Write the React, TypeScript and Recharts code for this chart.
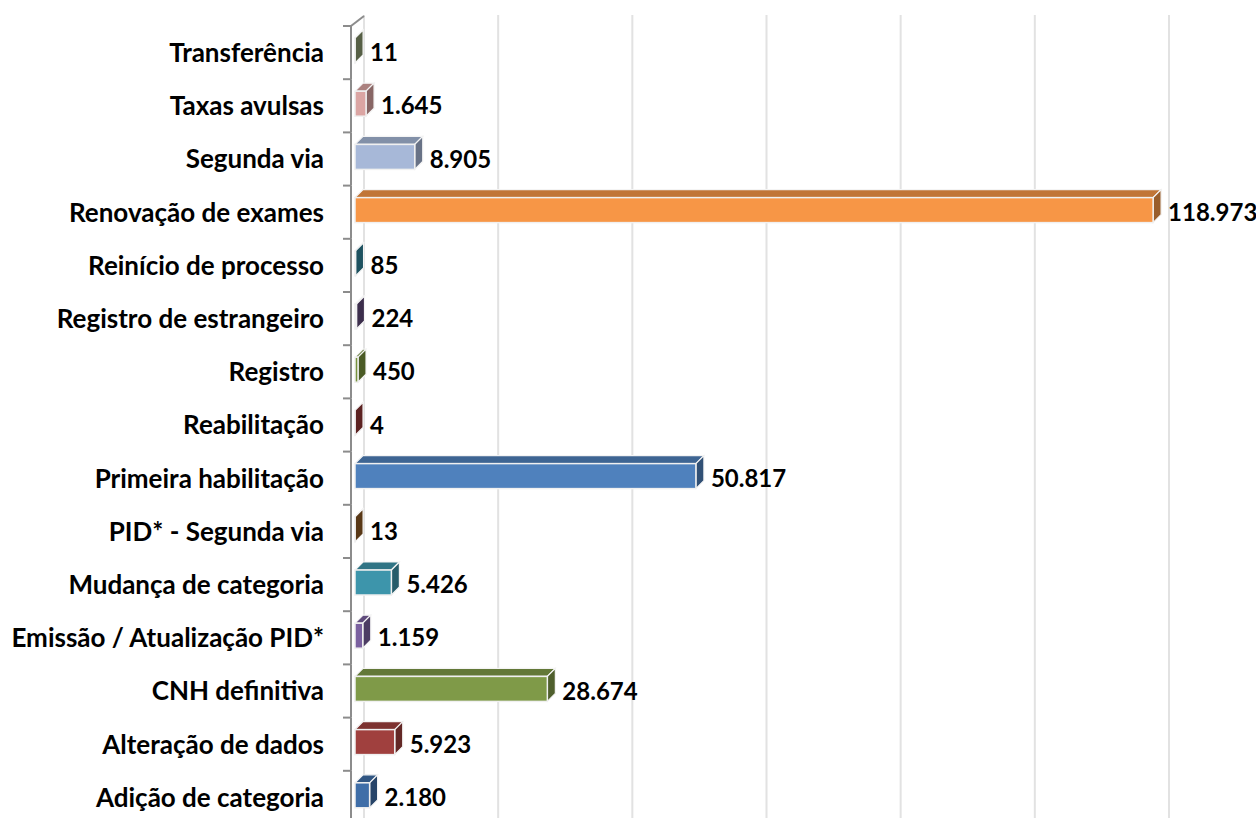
import { BarChart, Bar, XAxis, YAxis, CartesianGrid, LabelList } from 'recharts';

const categories = [
  'Transferência',
  'Taxas avulsas',
  'Segunda via',
  'Renovação de exames',
  'Reinício de processo',
  'Registro de estrangeiro',
  'Registro',
  'Reabilitação',
  'Primeira habilitação',
  'PID* - Segunda via',
  'Mudança de categoria',
  'Emissão / Atualização PID*',
  'CNH definitiva',
  'Alteração de dados',
  'Adição de categoria',
];

const values = [11, 1645, 8905, 118973, 85, 224, 450, 4, 50817, 13, 5426, 1159, 28674, 5923, 2180];

const colors = [
  '#8a9a70',
  '#dba5a3',
  '#a7b8d8',
  '#f79646',
  '#31849b',
  '#604a7b',
  '#77933c',
  '#953735',
  '#4f81bd',
  '#8f5a24',
  '#3d95ab',
  '#7b61a0',
  '#7f9a48',
  '#a0403e',
  '#3f6ea8',
];

const xTicks = [0, 20000, 40000, 60000, 80000, 100000, 120000];

const data = categories.map((name, i) => ({ name, value: values[i] }));

const W = 1256;
const H = 824;
const MARGIN = { top: 26, right: 96, bottom: 0, left: 0 };
const Y_WIDTH = 355;
const MAX = 120000;
const DEPTH = 8;
const AXIS_X = 351;
const BAND = (H - MARGIN.top - MARGIN.bottom) / categories.length;
const FONT = 'Lato, "Open Sans", sans-serif';

function shade(hex: string, f: number) {
  const n = parseInt(hex.slice(1), 16);
  const r = Math.round(((n >> 16) & 255) * f);
  const g = Math.round(((n >> 8) & 255) * f);
  const b = Math.round((n & 255) * f);
  return `rgb(${r},${g},${b})`;
}

const fmt = (v: number) => String(v).replace(/\B(?=(\d{3})+(?!\d))/g, '.');

function Bar3D(props: any) {
  const { x, y, width, height, index } = props;
  const c = colors[index % colors.length];
  const y0 = y - 2;
  const w = Math.max(width, 0);
  const top = `${x},${y0} ${x + DEPTH},${y0 - DEPTH} ${x + w + DEPTH},${y0 - DEPTH} ${x + w},${y0}`;
  const side = `${x + w},${y0} ${x + w + DEPTH},${y0 - DEPTH} ${x + w + DEPTH},${y0 + height - DEPTH} ${x + w},${y0 + height}`;
  return (
    <g>
      <polygon points={top} fill={shade(c, 0.78)} stroke="#f4f4f4" strokeWidth={1.2} />
      <polygon points={side} fill={shade(c, 0.62)} stroke="#f4f4f4" strokeWidth={1.2} />
      {w > 0 && <rect x={x} y={y0} width={w} height={height} fill={c} stroke="#f0f0f0" strokeWidth={1.5} />}
    </g>
  );
}

function CategoryTick(props: any) {
  const { y, payload, index } = props;
  const top = y - BAND / 2;
  return (
    <g>
      <line x1={AXIS_X} y1={top} x2={AXIS_X} y2={top + BAND} stroke="#8c8c8c" strokeWidth={2} />
      <line x1={AXIS_X - 8} y1={top} x2={AXIS_X} y2={top} stroke="#8c8c8c" strokeWidth={2} />
      {index === 0 && (
        <line x1={AXIS_X} y1={top} x2={AXIS_X + 13} y2={top - 10} stroke="#8c8c8c" strokeWidth={2} />
      )}
      <text
        x={AXIS_X - 27}
        y={y}
        dy="0.36em"
        textAnchor="end"
        fontFamily={FONT}
        fontWeight={700}
        fontSize={26}
        fill="#000"
      >
        {payload.value}
      </text>
    </g>
  );
}

function ValueLabel(props: any) {
  const { x, y, width, height, value } = props;
  return (
    <text
      x={x + width + 15}
      y={y + height / 2}
      dy="0.36em"
      fontFamily={FONT}
      fontWeight={700}
      fontSize={24}
      fill="#000"
    >
      {fmt(Number(value))}
    </text>
  );
}

export default function App() {
  return (
    <div style={{ position: 'absolute', left: 0, top: 0, width: W, height: 818, overflow: 'hidden', background: '#fff' }}>
      <BarChart width={W} height={H} data={data} layout="vertical" margin={MARGIN}>
        <CartesianGrid
          horizontal={false}
          stroke="#e2e2e2"
          strokeWidth={2}
          y={15}
          height={810}
          verticalCoordinatesGenerator={({ offset }: any) =>
            xTicks.map((t) => offset.left + (t / MAX) * offset.width + DEPTH + 1)
          }
        />
        <XAxis type="number" domain={[0, MAX]} ticks={xTicks} hide />
        <YAxis
          type="category"
          dataKey="name"
          width={Y_WIDTH}
          axisLine={false}
          tickLine={false}
          interval={0}
          tick={<CategoryTick />}
        />
        <Bar dataKey="value" barSize={25} isAnimationActive={false} shape={<Bar3D />}>
          <LabelList dataKey="value" content={<ValueLabel />} />
        </Bar>
      </BarChart>
    </div>
  );
}
